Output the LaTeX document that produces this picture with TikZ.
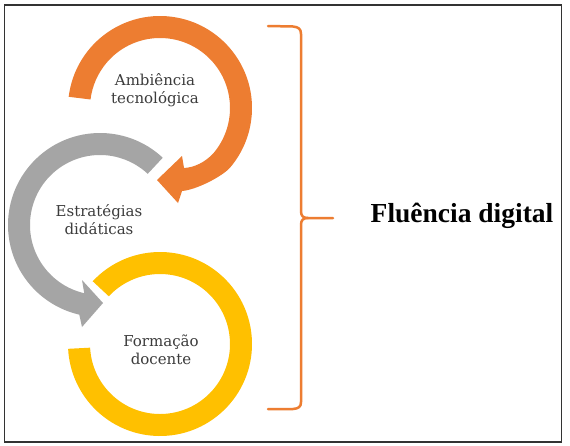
\documentclass[tikz,border=0pt]{standalone}
\usepackage{fontspec}
\usetikzlibrary{calc}
\setmainfont{DejaVu Serif}
\newfontfamily\titlefont{Liberation Serif}
\definecolor{cOrange}{HTML}{ED7D31}
\definecolor{cGray}{HTML}{A5A5A5}
\definecolor{cYellow}{HTML}{FFC000}
\definecolor{cText}{HTML}{3C3C3C}
\begin{document}
\begin{tikzpicture}[x=1pt,y=1pt,yscale=-1,
  lbl/.style={align=center,text=cText,font=\fontsize{15}{18}\selectfont,inner sep=0pt},
  ttl/.style={font=\titlefont\bfseries\fontsize{27.5}{30}\selectfont,text=black,inner sep=0pt,anchor=base},
  bracestyle/.style={draw=cOrange,line width=2.5pt,line join=round,line cap=round}]
\useasboundingbox (0,0) rectangle (570,445);
\fill[white] (0,0) rectangle (570,445);
\draw[line width=1.5pt,black!80] (4.5,5) rectangle (561.5,442);

\coordinate (C1) at (160,108);
\coordinate (C2) at (100,225);
\coordinate (C3) at (160,344);

% orange arc with arrowhead
\fill[cOrange] ($(C1)+(187:92)$) arc[start angle=187,end angle=400,radius=92]
  .. controls (222.8,176.3) and (196,190) .. (182,191)
  -- (178,203) -- (157,180) -- (182,156) -- (184,168)
  .. controls (194,167.5) and (205,162.5) .. ($(C1)+(400:70)$)
  arc[start angle=400,end angle=187,radius=70] -- cycle;

% gray arc with arrowhead
\fill[cGray] ($(C2)+(313:92)$) arc[start angle=313,end angle=103,radius=92]
  -- (82,327) -- (103,303) -- (82,280) -- ($(C2)+(103:70)$)
  arc[start angle=103,end angle=313,radius=70] -- cycle;

% yellow ring
\fill[cYellow] ($(C3)+(223:92)$) arc[start angle=223,end angle=537,radius=92]
  -- ($(C3)+(537:70)$) arc[start angle=537,end angle=223,radius=70] -- cycle;

\node[lbl] (amb) at (155,90) {Ambiência\\tecnológica};
\node[lbl] (est) at (99,220) {Estratégias\\didáticas};
\node[lbl] (for) at (161,350) {Formação\\docente};

% brace
\coordinate (bT) at (268,26);
\coordinate (bB) at (268,409);
\coordinate (bM) at (333,218);
\draw[bracestyle]
  (bT) -- (293,26.5) .. controls (298.5,27) and (301,29) .. (301,34)
  -- (301,211) .. controls (301,216) and (303,218) .. (308,218) -- (bM);
\draw[bracestyle]
  (308,218) .. controls (303,218) and (301,220) .. (301,225)
  -- (301,402) .. controls (301,407) and (298.5,408.5) .. (293,409) -- (bB);

\node[ttl] (flu) at (462,222) {Fluência digital};
\end{tikzpicture}
\end{document}
